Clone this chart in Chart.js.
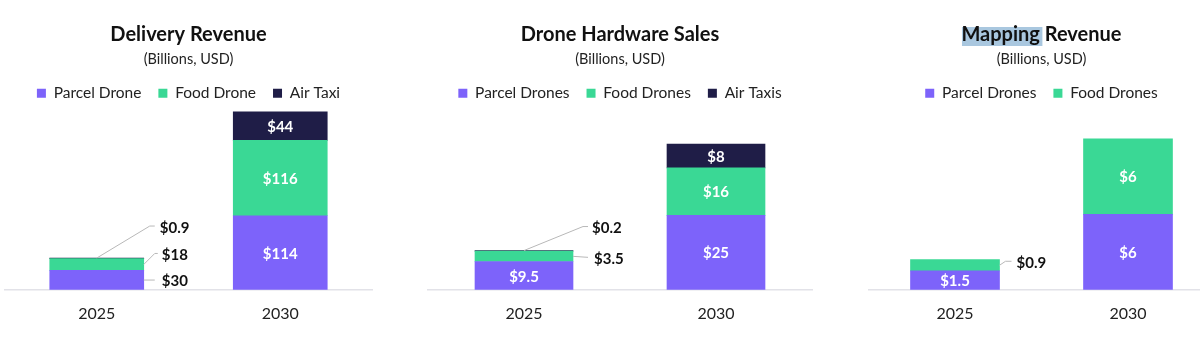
<!DOCTYPE html>
<html lang="en">
<head>
    <meta charset="UTF-8">
    <title>Drone Market Revenue</title>
    <script src="https://cdn.jsdelivr.net/npm/chart.js"></script>
    <style>
        html, body {
            margin: 0;
            padding: 0;
            background: #ffffff;
            width: 1200px;
            height: 345px;
            overflow: hidden;
        }
        canvas {
            position: absolute;
            top: 0;
        }
    </style>
</head>
<body>

<canvas id="deliveryChart" width="378" height="345" style="left:0px"></canvas>
<canvas id="hardwareChart" width="400" height="345" style="left:421px"></canvas>
<canvas id="mappingChart" width="370" height="345" style="left:858px"></canvas>

<script>
    // categories
    const years = ['2025', '2030'];

    // Delivery revenue (billions USD)
    const deliveryNames = ['Parcel Drone', 'Food Drone', 'Air Taxi'];
    const deliveryParcel = [30, 114];
    const deliveryFood = [18, 116];
    const deliveryAirTaxi = [0.9, 44];

    // Drone hardware sales (billions USD)
    const hardwareNames = ['Parcel Drones', 'Food Drones', 'Air Taxis'];
    const hardwareParcel = [9.5, 25];
    const hardwareFood = [3.5, 16];
    const hardwareAirTaxi = [0.2, 8];

    // Mapping revenue (billions USD)
    const mappingNames = ['Parcel Drones', 'Food Drones'];
    const mappingParcel = [1.5, 6];
    const mappingFood = [0.9, 6];

    const colors = ['#7d63fa', '#3ad895', '#1f1d47'];
    const FONT = 'Lato, "Noto Sans", sans-serif';

    // draws "$x" inside the segments, or outside with a leader line for the thin ones
    const valueLabels = {
        id: 'valueLabels',
        afterDatasetsDraw(chart, args, opts) {
            const ctx = chart.ctx;
            const callouts = opts.callouts || [];
            ctx.save();
            ctx.font = 'bold 15px ' + FONT;
            ctx.textBaseline = 'middle';
            chart.data.datasets.forEach((ds, di) => {
                const meta = chart.getDatasetMeta(di);
                meta.data.forEach((bar, i) => {
                    const text = '$' + ds.data[i];
                    const p = bar.getProps(['x', 'y', 'base', 'width'], true);
                    const right = p.x + p.width / 2;
                    const c = callouts.find(o => o.ds === di && o.i === i);
                    if (c) {
                        let ax, ay;
                        if (c.anchor === 'top') {
                            ax = p.x; ay = p.y;
                        } else {
                            ax = right; ay = (p.y + p.base) / 2;
                        }
                        ctx.strokeStyle = '#b8b8b8';
                        ctx.lineWidth = 1;
                        ctx.beginPath();
                        ctx.moveTo(ax, ay);
                        ctx.lineTo(right + c.ex, ay + c.ey);
                        ctx.lineTo(right + c.ex + c.len, ay + c.ey);
                        ctx.stroke();
                        ctx.fillStyle = '#111111';
                        ctx.textAlign = 'left';
                        ctx.fillText(text, right + c.tx, ay + c.ty);
                    } else {
                        ctx.fillStyle = '#ffffff';
                        ctx.textAlign = 'center';
                        ctx.fillText(text, p.x, (p.y + p.base) / 2 + 1);
                    }
                });
            });
            ctx.restore();
        }
    };

    // light blue selection box behind the first word of the title
    const titleHighlight = {
        id: 'titleHighlight',
        beforeDraw(chart, args, opts) {
            if (!opts.word) return;
            const ctx = chart.ctx;
            const tb = chart.titleBlock;
            ctx.save();
            ctx.font = 'bold 20px ' + FONT;
            const full = ctx.measureText(chart.options.plugins.title.text).width;
            const w = ctx.measureText(opts.word).width;
            const left = chart.width / 2 - full / 2;
            ctx.fillStyle = '#a9c7df';
            ctx.fillRect(left - 1, tb.top + tb.options.padding.top + 4, w + 2, 19);
            ctx.restore();
        }
    };

    function makePanel(id, title, names, series, opt) {
        const datasets = series.map((data, k) => ({
            label: names[k],
            data: data,
            backgroundColor: colors[k],
            borderWidth: 0,
            barThickness: opt.barWidth
        }));
        return new Chart(document.getElementById(id), {
            type: 'bar',
            data: { labels: years, datasets: datasets },
            plugins: [titleHighlight, valueLabels],
            options: {
                responsive: false,
                animation: false,
                layout: {
                    padding: { top: 0, bottom: 16, left: opt.padLeft, right: opt.padRight }
                },
                plugins: {
                    title: {
                        display: true,
                        text: title,
                        color: '#111111',
                        font: { family: FONT, size: 20, weight: 'bold' },
                        padding: { top: 23, bottom: 4 }
                    },
                    subtitle: {
                        display: true,
                        text: '(Billions, USD)',
                        color: '#222222',
                        font: { family: FONT, size: 14.5 },
                        padding: { top: 0, bottom: 0 }
                    },
                    legend: {
                        display: true,
                        maxHeight: 34,
                        labels: {
                            boxWidth: 9,
                            boxHeight: 9,
                            padding: 17,
                            color: '#222222',
                            font: { family: FONT, size: 15.5 }
                        }
                    },
                    tooltip: { enabled: false },
                    titleHighlight: { word: opt.highlight || null },
                    valueLabels: { callouts: opt.callouts }
                },
                scales: {
                    x: {
                        stacked: true,
                        grid: { display: false },
                        border: { display: true, color: '#e2e2e8', width: 1.5 },
                        ticks: {
                            padding: 6,
                            color: '#222222',
                            font: { family: FONT, size: 16 }
                        }
                    },
                    y: {
                        stacked: true,
                        display: false,
                        min: 0,
                        max: opt.yMax
                    }
                }
            }
        });
    }

    makePanel('deliveryChart', 'Delivery Revenue', deliveryNames,
        [deliveryParcel, deliveryFood, deliveryAirTaxi], {
            barWidth: 94, padLeft: 5, padRight: 6, yMax: 288.5,
            callouts: [
                { ds: 2, i: 0, anchor: 'top', ex: 6, ey: -32, len: 5, tx: 16, ty: -30 },
                { ds: 1, i: 0, anchor: 'right', ex: 11, ey: -11, len: 3, tx: 18, ty: -9 },
                { ds: 0, i: 0, anchor: 'right', ex: 11, ey: 0, len: 0, tx: 18, ty: 1 }
            ]
        });

    makePanel('hardwareChart', 'Drone Hardware Sales', hardwareNames,
        [hardwareParcel, hardwareFood, hardwareAirTaxi], {
            barWidth: 98, padLeft: 7, padRight: 9, yMax: 63.0,
            callouts: [
                { ds: 2, i: 0, anchor: 'top', ex: 10, ey: -24, len: 5, tx: 19, ty: -22 },
                { ds: 1, i: 0, anchor: 'right', ex: 15, ey: 1, len: 0, tx: 21, ty: 3 }
            ]
        });

    makePanel('mappingChart', 'Mapping Revenue', mappingNames,
        [mappingParcel, mappingFood], {
            barWidth: 89, padLeft: 10.5, padRight: 13.5, yMax: 14.9,
            highlight: 'Mapping',
            callouts: [
                { ds: 1, i: 0, anchor: 'right', ex: 6, ey: -4, len: 6, tx: 17, ty: -2 }
            ]
        });
</script>

</body>
</html>
